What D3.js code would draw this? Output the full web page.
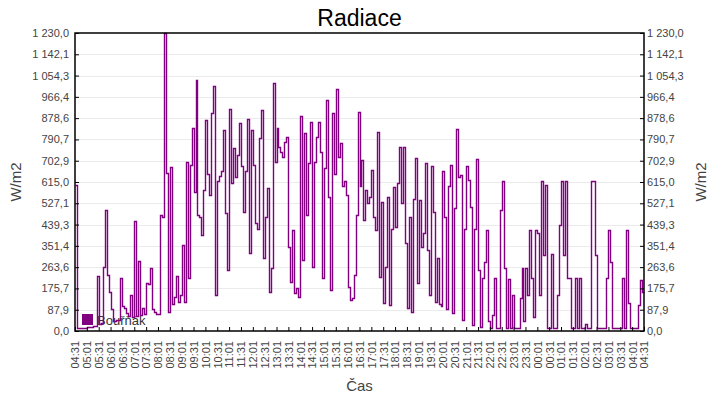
<html>
  <head>
    <meta charset="UTF-8">
    <script src="https://unpkg.com/d3@7/dist/d3.min.js"></script>
    <title>Radiace</title>
    <style>
      body { margin: 0; background: #fff; }
      text { font-family: "Liberation Sans", Arial, sans-serif; }
    </style>
  </head>
  <body>
	<script type="text/javascript">

      // radiation readings, one every 5 minutes from 04:31 to 04:31 next day (W/m2)
      var stepMinutes = 5;
      var radiace = [
        603,14,12,12,13,14,15,17,18,20,22,227,
        30,32,265,500,230,160,90,40,42,44,46,220,
        105,95,75,60,150,58,454,60,290,65,95,70,
        200,195,260,90,80,70,72,479,470,1230,651,80,
        678,110,140,225,120,150,355,120,699,220,685,837,
        575,1036,480,470,396,582,871,650,560,898,1011,150,
        620,640,660,830,489,250,916,610,754,637,726,857,
        680,493,660,874,320,830,685,444,420,795,912,300,
        470,589,160,260,1025,699,837,760,740,720,780,800,
        348,204,417,155,176,140,887,293,816,480,692,864,
        265,699,802,864,740,217,671,953,555,170,898,650,
        997,720,775,600,620,560,183,128,135,231,478,905,
        600,706,458,580,527,555,665,472,417,823,224,534,
        114,265,555,107,420,595,430,610,761,527,761,362,
        94,472,80,545,713,197,540,348,403,695,334,150,
        681,493,120,300,110,105,662,472,90,599,685,75,
        506,834,637,644,45,420,681,623,513,25,421,710,
        250,16,217,286,417,40,14,66,217,12,12,500,
        619,259,12,213,12,149,12,12,12,135,259,40,
        259,150,417,217,56,417,403,149,619,314,603,14,
        14,318,14,14,149,438,619,314,619,217,217,14,
        14,217,14,217,14,14,30,14,14,619,619,314,
        14,14,14,14,14,217,417,286,14,14,14,14,
        14,217,14,417,114,14,14,14,14,107,210,160,
        160
      ];

      var timeLabels = ["04:31","05:01","05:31","06:01","06:31","07:01","07:31","08:01","08:31",
        "09:01","09:31","10:01","10:31","11:01","11:31","12:01","12:31","13:01","13:31",
        "14:01","14:31","15:01","15:31","16:01","16:31","17:01","17:31","18:01","18:31",
        "19:01","19:31","20:01","20:31","21:01","21:31","22:01","22:31","23:01","23:31",
        "00:01","00:31","01:01","01:31","02:01","02:31","03:01","03:31","04:01","04:31"];

      var yTickLabels = ["0,0","87,9","175,7","263,6","351,4","439,3","527,1","615,0",
        "702,9","790,7","878,6","966,4","1 054,3","1 142,1","1 230,0"];

      var yMax = 1230;
      var width = 720;
      var height = 400;
      var plotLeft = 75, plotRight = 644, plotTop = 33, plotBottom = 331;

      var svg = d3.select('body')
                  .append('svg')
                  .attr('width', width)
                  .attr('height', height);

      var x = d3.scaleLinear().domain([0, 24 * 60]).range([plotLeft, plotRight]);
      var y = d3.scaleLinear().domain([0, yMax]).range([plotBottom, plotTop]);

      // snap to pixel centres so thin strokes stay sharp
      function px(v){ return Math.round(v) + 0.5; }

      var xTicks = timeLabels.map(function(d, i){ return i * 30; });
      var yTicks = yTickLabels.map(function(d, i){ return i * yMax / (yTickLabels.length - 1); });

      // grid
      svg.append('g')
          .selectAll('line')
          .data(yTicks.slice(1, -1))
          .enter()
          .append('line')
          .attr('x1', plotLeft).attr('x2', plotRight)
          .attr('y1', function(d){ return px(y(d)); })
          .attr('y2', function(d){ return px(y(d)); })
          .style('stroke', '#ebebeb')
          .style('stroke-width', '1px');

      // legend sits under the line
      svg.append('rect')
          .attr('x', 82).attr('y', 314)
          .attr('width', 11).attr('height', 11)
          .style('fill', '#800080');
      svg.append('text')
          .attr('x', 97).attr('y', 325)
          .attr('font-size', '13px')
          .style('fill', '#333')
          .text('Bouřňák');

      var line = d3.line()
          .curve(d3.curveStepAfter)
          .x(function(d, i){ return px(x(i * stepMinutes)); })
          .y(function(d){ return px(y(d)); });

      svg.append('path')
          .datum(radiace)
          .attr('d', line)
          .style('fill', 'none')
          .style('stroke', '#800080')
          .style('stroke-width', '1.4px');

      // axes
      function styleAxis(g){
        g.select('.domain').remove();
        g.selectAll('line').style('stroke', '#000');
        g.selectAll('text')
          .attr('font-size', '11px')
          .style('fill', '#444')
          .style('font-family', '"Liberation Sans", Arial, sans-serif');
      }

      svg.append('g')
          .attr('transform', 'translate(' + plotLeft + ',0)')
          .call(d3.axisLeft(y).tickValues(yTicks).tickSize(-4).tickPadding(6)
                .tickFormat(function(d, i){ return yTickLabels[i]; }))
          .call(styleAxis);

      svg.append('g')
          .attr('transform', 'translate(' + plotRight + ',0)')
          .call(d3.axisRight(y).tickValues(yTicks).tickSize(-4).tickPadding(3)
                .tickFormat(function(d, i){ return yTickLabels[i]; }))
          .call(styleAxis);

      var xg = svg.append('g')
          .attr('transform', 'translate(0,' + plotBottom + ')')
          .call(d3.axisBottom(x).tickValues(xTicks).tickSize(-4)
                .tickFormat(function(d, i){ return timeLabels[i]; }))
          .call(styleAxis);
      xg.selectAll('text')
          .attr('transform', 'rotate(-90)')
          .attr('x', -10)
          .attr('y', 0)
          .attr('dy', '0.35em')
          .style('text-anchor', 'end');

      // frame
      svg.append('rect')
          .attr('x', plotLeft).attr('y', plotTop)
          .attr('width', plotRight - plotLeft).attr('height', plotBottom - plotTop)
          .style('fill', 'none')
          .style('stroke', '#000')
          .style('stroke-width', '1.5px');

      // titles
      svg.append('text')
          .attr('x', (plotLeft + plotRight) / 2).attr('y', 26)
          .attr('text-anchor', 'middle')
          .attr('font-size', '23px')
          .style('fill', '#000')
          .text('Radiace');

      svg.append('text')
          .attr('x', (plotLeft + plotRight) / 2).attr('y', 391)
          .attr('text-anchor', 'middle')
          .attr('font-size', '15px')
          .style('fill', '#444')
          .text('Čas');

      [21, 706].forEach(function(tx){
        svg.append('text')
            .attr('transform', 'translate(' + tx + ',' + (plotTop + plotBottom) / 2 + ') rotate(-90)')
            .attr('text-anchor', 'middle')
            .attr('font-size', '15px')
            .style('fill', '#444')
            .text('W/m2');
      });

	</script>
  </body>
</html>
